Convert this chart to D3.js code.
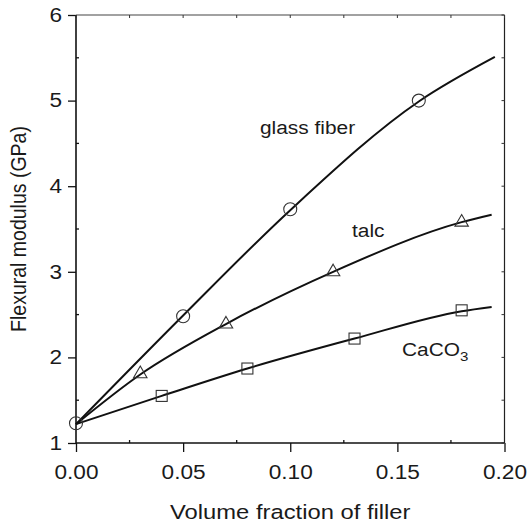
<!DOCTYPE html>
<html>
<head>
<meta charset="utf-8">
<script src="https://cdn.jsdelivr.net/npm/d3@7"></script>
<style>
  html, body { margin: 0; padding: 0; background: #fff; }
  svg { display: block; }
  text { font-family: "Liberation Sans", Arial, Helvetica, sans-serif; fill: #1a1a1a; }
</style>
</head>
<body>
<svg id="chart" width="527" height="523"></svg>
<script>
// Measured points (volume fraction, flexural modulus in GPa)
const glassX = [0.00, 0.05, 0.10, 0.16];
const glassY = [1.23, 2.48, 3.73, 5.00];
const talcX = [0.03, 0.07, 0.12, 0.18];
const talcY = [1.82, 2.40, 3.01, 3.59];
const caco3X = [0.04, 0.08, 0.13, 0.18];
const caco3Y = [1.55, 1.87, 2.22, 2.55];

// Fitted trend curves
const glassFitX = [0.00, 0.05, 0.10, 0.16, 0.1955];
const glassFitY = [1.22, 2.49, 3.72, 4.99, 5.51];
const talcFitX = [0.00, 0.03, 0.07, 0.12, 0.18, 0.194];
const talcFitY = [1.22, 1.80, 2.39, 3.00, 3.58, 3.667];
const caco3FitX = [0.00, 0.04, 0.08, 0.13, 0.18, 0.194];
const caco3FitY = [1.22, 1.55, 1.87, 2.22, 2.54, 2.59];

// Axes
const xTicks = [0.00, 0.05, 0.10, 0.15, 0.20];
const xMinor = [0.025, 0.075, 0.125, 0.175];
const yTicks = [1, 2, 3, 4, 5, 6];
const yMinor = [1.5, 2.5, 3.5, 4.5, 5.5];

const svg = d3.select("#chart");
const pLeft = 76, pRight = 504.5, pTop = 15, pBottom = 443;
const stretch = 1.16; // horizontal glyph widening used for all text

const x = d3.scaleLinear().domain([0, 0.20]).range([pLeft, pRight]);
const y = d3.scaleLinear().domain([1, 6]).range([pBottom, pTop]);

const zip = (xs, ys) => xs.map((v, i) => [v, ys[i]]);

// Frame
const frame = svg.append("g");
frame.append("line").attr("x1", pLeft).attr("x2", pRight).attr("y1", pTop).attr("y2", pTop)
  .attr("stroke", "#444").attr("stroke-width", 1.2);
frame.append("line").attr("x1", pRight).attr("x2", pRight).attr("y1", pTop).attr("y2", pBottom)
  .attr("stroke", "#222").attr("stroke-width", 1.2);

// Bottom axis: major ticks outward, minor ticks inward
const xAxis = svg.append("g").attr("transform", `translate(0,${pBottom})`)
  .call(d3.axisBottom(x).tickValues(xTicks).tickFormat(d3.format(".2f")).tickSize(9).tickPadding(13));
xAxis.append("g").selectAll("line").data(xMinor).join("line")
  .attr("x1", d => x(d)).attr("x2", d => x(d)).attr("y1", 0).attr("y2", -3);

// Left axis
const yAxis = svg.append("g").attr("transform", `translate(${pLeft},0)`)
  .call(d3.axisLeft(y).tickValues(yTicks).tickFormat(d3.format("d")).tickSize(8).tickPadding(6));
yAxis.append("g").selectAll("line").data(yMinor).join("line")
  .attr("x1", 0).attr("x2", 3).attr("y1", d => y(d)).attr("y2", d => y(d));

[xAxis, yAxis].forEach(a => {
  a.select(".domain").attr("stroke", "#111").attr("stroke-width", 1.6);
  a.selectAll("line").attr("stroke", "#111").attr("stroke-width", 1.3);
  a.selectAll("text").style("font-size", "19.5px").attr("fill", "#1a1a1a");
});
xAxis.select(".domain").attr("d", `M${pLeft},0H${pRight}`);
yAxis.select(".domain").attr("d", `M0,${pBottom}V${pTop}`);
xAxis.selectAll(".tick text").attr("transform", `scale(${stretch},1)`);
yAxis.selectAll(".tick text").attr("x", -14 / stretch).attr("transform", `scale(${stretch},1)`);

// Top and right inner ticks
svg.append("g").selectAll("line").data(xTicks.concat(xMinor)).join("line")
  .attr("x1", d => x(d)).attr("x2", d => x(d)).attr("y1", pTop).attr("y2", pTop + 3)
  .attr("stroke", "#333").attr("stroke-width", 1);
svg.append("g").selectAll("line").data(yTicks.concat(yMinor)).join("line")
  .attr("x1", pRight - 3).attr("x2", pRight).attr("y1", d => y(d)).attr("y2", d => y(d))
  .attr("stroke", "#333").attr("stroke-width", 1);

// Fitted curves
const line = d3.line().x(d => x(d[0])).y(d => y(d[1])).curve(d3.curveMonotoneX);
[[glassFitX, glassFitY], [talcFitX, talcFitY], [caco3FitX, caco3FitY]].forEach(([xs, ys]) => {
  svg.append("path").datum(zip(xs, ys)).attr("d", line)
    .attr("fill", "none").attr("stroke", "#111").attr("stroke-width", 2);
});

// Markers
const mk = svg.append("g").attr("fill", "none").attr("stroke", "#333").attr("stroke-width", 1.1);
mk.selectAll("circle").data(zip(glassX, glassY)).join("circle")
  .attr("cx", d => x(d[0])).attr("cy", d => y(d[1])).attr("r", 6.5);
const tri = d3.symbol().type(d3.symbolTriangle).size(78);
mk.selectAll("path.tri").data(zip(talcX, talcY)).join("path").attr("class", "tri")
  .attr("d", tri).attr("transform", d => `translate(${x(d[0])},${y(d[1]) + 1})`);
mk.selectAll("rect").data(zip(caco3X, caco3Y)).join("rect")
  .attr("x", d => x(d[0]) - 5.5).attr("y", d => y(d[1]) - 5.5)
  .attr("width", 11).attr("height", 11);

// Horizontal text helper
function label(px, py, size, anchor) {
  return svg.append("text")
    .attr("transform", `translate(${px},${py}) scale(${stretch},1)`)
    .attr("text-anchor", anchor || "start")
    .style("font-size", size + "px");
}

// Series labels
label(260, 134, 18).text("glass fiber");
label(352, 237, 18).text("talc");
const ca = label(402, 356, 18);
ca.append("tspan").text("CaCO");
ca.append("tspan").attr("dy", 5).style("font-size", "13px").text("3");

// Axis titles
label((pLeft + pRight) / 2, 519, 20.5, "middle").text("Volume fraction of filler");
svg.append("text")
  .attr("transform", `translate(26,${(pTop + pBottom) / 2}) rotate(-90) scale(1,${stretch})`)
  .attr("text-anchor", "middle").style("font-size", "19.5px").text("Flexural modulus (GPa)");
</script>
</body>
</html>
